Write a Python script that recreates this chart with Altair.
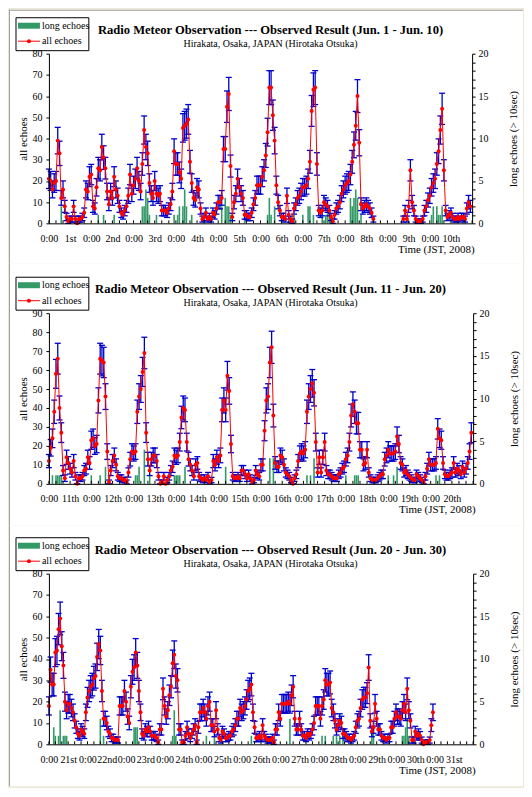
import json
import altair as alt
import pandas as pd

# ---------------- data ----------------
# hourly "all echoes" counts, one list per panel (None = no observation)
P1_ALL = (
    [21, 20, 16, 19, 20, 39, 33, 12, 16, 8, 3, 1, 2, 2, 8, 2, 0, 2, 2, 3, 5, 16, 15, 22]
    + [23, 8, 7, 17, 26, 25, 36, 31, 26, 15, 9, 15, 12, 22, 16, 13, 8, 5, 4, 6, 8, 13, 23, 14]
    + [18, 21, 26, 20, 15, 28, 44, 36, 33, 19, 14, 12, 20, 14, 13, 14, 6, 6, 6, 5, 7, 9, 15, 34]
    + [28, 28, 24, 21, 45, 46, 47, 49, 29, 19, 12, 11, 17, 16, 7, 2, 3, 5, 2, 3, 2, 5, 4, 7]
    + [10, 10, 12, 35, 35, 55, 61, 27, 3, 10, 14, 21, 17, 14, 12, 4, 4, 3, 3, 5, 9, 12, 18, 18]
    + [18, 22, 25, 32, 43, 64, 64, 51, 39, 18, 10, 6, 3, 3, 2, 13, 4, 2, 1, 7, 9, 12, 13, 15]
    + [17, 17, 18, 21, 29, 53, 63, 64, 28, 6, 5, 6, 10, 9, 8, 6, 3, 1, 4, 7, 8, 10, 14, 16]
    + [18, 19, 20, 23, 29, 37, 46, 60, 38, 9, 7, 8, 9, 8, 7, 5, 2, None, None, None, None, None, None, None]
    + [None, None, None, None, None, None, None, None, None, 2, 6, 2, 8, 25, 10, 6, 2, 1, 1, 1, 2, 6, 8, 11]
    + [13, 17, 19, 21, 28, 34, 44, 54, 25, 6, 3, 4, 5, 3, 2, 2, 3, 2, 3, 3, 2, 7, 10, 8]
)
P2_ALL = (
    [12, 19, 24, 38, 58, 66, 40, 27, 7, 3, 14, 11, 8, 6, 12, 4, 0, 3, 3, 4, 7, 8, 14, 11]
    + [23, 24, 20, 21, 44, 66, 65, 64, 46, 17, 1, 7, 12, 15, 10, 4, 3, 3, 2, 2, 1, 6, 13, 17]
    + [16, 17, 38, 46, 50, 59, 69, 27, 13, 7, 13, 15, 15, 12, 4, 0, 1, 4, 0, 2, 4, 7, 9, 15]
    + [14, 15, 22, 35, 40, 39, 22, 13, 10, 7, 4, 10, 11, 4, 3, 2, 3, 2, 4, 1, 2, 12, 10, 14]
    + [12, 15, 39, 44, 39, 57, 49, 21, 4, 3, 3, 4, 3, 7, 7, 5, 3, 5, 3, 1, 2, 7, 5, 4]
    + [10, 10, 28, 44, 46, 64, 72, 36, 11, 9, 9, 15, 14, 10, 6, 5, 4, 2, 0, 3, 5, 12, 16, 17]
    + [16, 18, 38, 46, 50, 53, 48, 22, 6, 14, 6, 14, 22, 7, 5, 5, 4, 3, 3, 3, 5, 6, 8, 9]
    + [13, 15, 22, 36, 42, 38, 32, 32, 18, 18, 10, 11, 18, 6, 3, 2, 2, 2, 3, 4, 5, 5, 13, 15]
    + [18, 16, 16, 16, 17, 25, 21, 11, 10, 6, 7, 5, 4, 3, 2, 2, 5, 4, 3, 2, 1, 4, 8, 13]
    + [10, 10, 10, 11, 29, 24, 23, 11, 5, 4, 4, 5, 6, 11, 6, 8, 7, 5, 9, 6, 8, 11, 17, 27]
)
P3_ALL = (
    [18, 35, 28, 28, 43, 44, 54, 59, 46, 37, 20, 16, 19, 19, 17, 15, 11, 8, 5, 4, 7, 6, 5, 15]
    + [22, 25, 27, 28, 31, 32, 41, 47, 44, 25, 12, 12, 10, 6, 5, 3, 3, 2, 2, 2, 18, 18, 18, 25]
    + [20, 13, 10, 27, 34, 36, 43, 37, 25, 15, 5, 4, 7, 6, 8, 6, 4, 4, 4, 3, 1, 7, 7, 26]
    + [18, 13, 16, 23, 27, 38, 42, 32, 30, 7, 7, 1, 1, 4, 8, 5, 3, 5, 7, 9, 1, 8, 15, 15]
    + [17, 15, 12, 18, 20, 9, 9, 6, 16, 7, 3, 2, 6, 5, 3, 3, 4, 4, 6, 7, 9, 12, 12, 17]
    + [15, 16, 18, 21, 25, 26, 28, 15, 8, 3, 3, 4, 3, 9, 4, 3, 2, 2, 2, 3, 1, 7, 7, 15]
    + [12, 19, 19, 19, 19, 20, 19, 23, 27, 12, 7, 7, 12, 7, 4, 4, 3, 5, 4, 5, 7, 10, 18, 18]
    + [18, 12, 18, 21, 30, 28, 28, 29, 17, 15, 11, 7, 9, 11, 10, 5, 5, 4, 3, 3, 2, 3, 4, 8]
    + [11, 12, 17, 21, 22, 22, 24, 36, 11, 6, 8, 19, 12, 7, 7, 4, 3, 3, 2, 3, 3, 8, 8, 12]
    + [15, 13, 13, 12, 16, 19, 15, 26, 16, 11, 2, 2, 6, 4, 5, 4, 2, 0, 1, 1, 1, 2, 9, 15]
)

# long echoes (> 10 sec): hour index and count
P1_LONG_H = [7, 28, 31, 37, 53, 54, 55, 56, 57, 61, 71, 73, 74, 76, 77, 78, 81, 98, 100, 101,
             102, 103, 111, 124, 125, 126, 128, 132, 139, 144, 147, 148, 150, 155, 157, 158,
             159, 171, 172, 173, 174, 175, 177, 217, 218, 220, 221, 222, 223, 235]
P1_LONG_N = [2, 1, 1, 1, 2, 2, 4, 3, 1, 1, 1, 1, 2, 2, 4, 2, 1, 2, 3, 2,
             2, 1, 1, 1, 3, 1, 2, 1, 1, 1, 2, 2, 1, 1, 1, 2,
             1, 3, 2, 3, 4, 3, 1, 1, 2, 2, 1, 1, 2, 1]
P2_LONG_H = [2, 4, 5, 6, 7, 24, 29, 32, 34, 49, 50, 51, 54, 57, 71, 72, 73, 74, 77, 100,
             125, 127, 146, 148, 150, 168, 173, 174, 175, 192, 195, 197, 219, 221]
P2_LONG_N = [1, 1, 1, 1, 1, 1, 1, 2, 1, 1, 1, 2, 4, 1, 1, 1, 1, 1, 2, 2,
             3, 3, 1, 1, 3, 1, 1, 1, 1, 1, 1, 2, 1, 1]
P3_LONG_H = [3, 4, 6, 7, 9, 10, 11, 32, 34, 53, 54, 55, 77, 78, 79, 92, 98, 103, 126, 150,
             170, 172, 177, 179, 181, 183, 201, 202, 220, 221, 222, 223, 224]
P3_LONG_N = [2, 1, 1, 4, 1, 1, 1, 3, 1, 2, 2, 2, 1, 4, 1, 1, 1, 1, 1, 3,
             1, 1, 1, 1, 1, 1, 2, 3, 1, 1, 2, 3, 1]

P1_XLABELS = ["0:00", "1st", "0:00", "2nd", "0:00", "3rd", "0:00", "4th", "0:00", "5th",
              "0:00", "6th", "0:00", "7th", "0:00", "8th", "0:00", "9th", "0:00", "10th"]
P2_XLABELS = ["0:00", "11th", "0:00", "12th", "0:00", "13th", "0:00", "14th", "0:00", "15th",
              "0:00", "16th", "0:00", "17th", "0:00", "18th", "0:00", "19th", "0:00", "20th"]
P3_XLABELS = ["0:00", "21st", "0:00", "22nd", "0:00", "23rd", "0:00", "24th", "0:00", "25th",
              "0:00", "26th", "0:00", "27th", "0:00", "28th", "0:00", "29th", "0:00", "30th",
              "0:00", "31st"]

TITLES = [
    "Radio Meteor Observation --- Observed Result (Jun. 1 - Jun. 10)",
    "Radio Meteor Observation --- Observed Result (Jun. 11 - Jun. 20)",
    "Radio Meteor Observation --- Observed Result (Jun. 20 - Jun. 30)",
]
SUBTITLE = "Hirakata, Osaka, JAPAN (Hirotaka Otsuka)"
LEGEND_LABELS = ["long echoes", "all echoes"]
X_TITLE = "Time (JST, 2008)"
Y_TITLE = "all echoes"
Y2_TITLE = "long echoes (> 10sec)"

# ---------------- style ----------------
BEIGE = "#ECE9D8"
SERIF = "Liberation Serif"
RED = "#FF0000"
BLUE = "#0000CC"
GREEN = "#339966"


def one(**kw):
    return pd.DataFrame({k: [v] for k, v in kw.items()})


def panel(vals, long_h, long_n, nhours, xlabels, ymax, title, w, h, top, bottom, first):
    df = pd.DataFrame({"h": list(range(len(vals))), "v": vals})
    ldf = pd.DataFrame({"h": long_h, "n": long_n})
    tdf = pd.DataFrame({"h": list(range(0, nhours + 1, 4))})

    X = alt.X(
        "h:Q",
        scale=alt.Scale(domain=[0, nhours], nice=False, zero=False),
        axis=alt.Axis(
            zindex=2,
            values=[12 * i for i in range(len(xlabels))],
            labelExpr=json.dumps(xlabels) + "[round(datum.value / 12)]",
            labelOverlap=False, labelFlush=False, ticks=False, tickSize=0,
            labelPadding=15, labelBaseline="middle", labelFontSize=10,
            title=X_TITLE, titleX=w + 2, titleY=26, titleAlign="right",
            titleBaseline="middle", titleFontSize=11,
        ),
    )
    yl_scale = alt.Scale(domain=[0, ymax], nice=False, zero=True)
    yl_axis = alt.Axis(
        zindex=2,
        orient="left", values=list(range(0, ymax + 1, 10)), tickSize=3, labelPadding=4,
        title=Y_TITLE, titleX=-25, titleY=h / 2, titleAngle=270, titleAlign="center",
        titleBaseline="middle", titleFontSize=11,
    )

    def YL(field):
        return alt.Y(field, scale=yl_scale, axis=yl_axis)

    yr = alt.Y(
        "n:Q",
        scale=alt.Scale(domain=[0, 20], nice=False, zero=True),
        axis=alt.Axis(
            zindex=2,
            orient="right", values=list(range(21)),
            labelExpr="datum.value % 5 == 0 ? datum.label : ''",
            tickSize=3, labelPadding=3, title=Y2_TITLE, titleX=41, titleY=h / 2,
            titleAngle=270, titleAlign="center", titleBaseline="middle", titleFontSize=11,
        ),
    )

    bars = alt.Chart(ldf).mark_rule(color=GREEN, strokeWidth=1.6).encode(
        x=X, y=yr, y2=alt.datum(0)
    )

    valid = alt.Chart(df).transform_filter("isValid(datum.v)").transform_calculate(
        lo="max(0, datum.v - sqrt(datum.v))", hi="datum.v + sqrt(datum.v)"
    )
    err = valid.mark_rule(color=BLUE, strokeWidth=1.3).encode(x=X, y=YL("lo:Q"), y2="hi:Q")
    cap_hi = valid.mark_rule(color=BLUE, strokeWidth=1.3, xOffset=-3, x2Offset=3).encode(
        x=X, x2="h:Q", y=YL("hi:Q")
    )
    cap_lo = valid.mark_rule(color=BLUE, strokeWidth=1.3, xOffset=-3, x2Offset=3).encode(
        x=X, x2="h:Q", y=YL("lo:Q")
    )
    line = alt.Chart(df).mark_line(color=RED, strokeWidth=1).encode(x=X, y=YL("v:Q"))
    pts = alt.Chart(df).mark_circle(color=RED, size=16, opacity=1).encode(x=X, y=YL("v:Q"))
    xticks = alt.Chart(tdf).mark_rule(color="black", strokeWidth=1).encode(
        x=X, y=alt.value(h), y2=alt.value(h - 3)
    )
    left_group = alt.layer(err, cap_hi, cap_lo, line, pts, xticks)

    # page decoration: white sheet and its border lines
    sheet = alt.Chart(one(a=1)).mark_rect(fill="white").encode(
        x=alt.value(-40), x2=alt.value(475), y=alt.value(top), y2=alt.value(bottom)
    )
    border = alt.Chart(one(a=1)).mark_rule(color="#A0A0A0", strokeWidth=1).encode(
        x=alt.value(-39.5), y=alt.value(top), y2=alt.value(bottom)
    )

    # legend box
    lg_box = alt.Chart(one(a=1)).mark_rect(fill="white", stroke="black", strokeWidth=1).encode(
        x=alt.value(-33), x2=alt.value(40), y=alt.value(-36), y2=alt.value(-3)
    )
    lg_sw = alt.Chart(one(a=1)).mark_rect(fill=GREEN).encode(
        x=alt.value(-31), x2=alt.value(-9), y=alt.value(-31), y2=alt.value(-25)
    )
    lg_line = alt.Chart(one(a=1)).mark_rule(color=RED, strokeWidth=1).encode(
        x=alt.value(-31), x2=alt.value(-9), y=alt.value(-12.5)
    )
    lg_dot = alt.Chart(one(a=1)).mark_circle(color=RED, size=16, opacity=1).encode(
        x=alt.value(-20), y=alt.value(-12.5)
    )
    lg_t1 = alt.Chart(one(t=LEGEND_LABELS[0])).mark_text(
        align="left", baseline="middle", font=SERIF, fontSize=10, color="black"
    ).encode(x=alt.value(-7), y=alt.value(-28), text="t:N")
    lg_t2 = alt.Chart(one(t=LEGEND_LABELS[1])).mark_text(
        align="left", baseline="middle", font=SERIF, fontSize=10, color="black"
    ).encode(x=alt.value(-7), y=alt.value(-12.5), text="t:N")

    ttl = alt.Chart(one(t=title)).mark_text(
        align="center", baseline="middle", font=SERIF, fontSize=12.6, fontWeight="bold",
        color="black",
    ).encode(x=alt.value(222), y=alt.value(-24), text="t:N")
    sub = alt.Chart(one(t=SUBTITLE)).mark_text(
        align="center", baseline="middle", font=SERIF, fontSize=10, color="black"
    ).encode(x=alt.value(222), y=alt.value(-10), text="t:N")

    layers = [sheet, border, bars, left_group, lg_box, lg_sw, lg_line, lg_dot,
              lg_t1, lg_t2, ttl, sub]
    if first:
        top_line = alt.Chart(one(a=1)).mark_rule(color="#A0A0A0", strokeWidth=1).encode(
            x=alt.value(-40), x2=alt.value(475), y=alt.value(top + 0.5)
        )
        layers.insert(2, top_line)
    return (
        alt.layer(*layers)
        .resolve_scale(y="independent")
        .properties(width=w, height=h)
    )


# plot areas (page px): P1 48..472 x 52..222, P2 312..483, P3 573..744
p1 = panel(P1_ALL, P1_LONG_H, P1_LONG_N, 240, P1_XLABELS, 80, TITLES[0], 424, 170, -44, 210, True)
p2 = panel(P2_ALL, P2_LONG_H, P2_LONG_N, 240, P2_XLABELS, 90, TITLES[1], 425, 171, -50, 213, False)
p3 = panel(P3_ALL, P3_LONG_H, P3_LONG_N, 264, P3_XLABELS, 80, TITLES[2], 425, 171, -48, 213, False)

chart = (
    alt.vconcat(p1, p2, p3, spacing=90, bounds="flush")
    .properties(padding=0, background=BEIGE)
    .configure_view(stroke=None)
    .configure_axis(
        labelFont=SERIF, titleFont=SERIF, labelColor="black", titleColor="black",
        domainColor="black", tickColor="black", grid=False, titleFontWeight="normal",
        labelFontSize=10, domainWidth=1,
    )
)

chart.save("out.html", embed_options={"renderer": "svg", "actions": False})
